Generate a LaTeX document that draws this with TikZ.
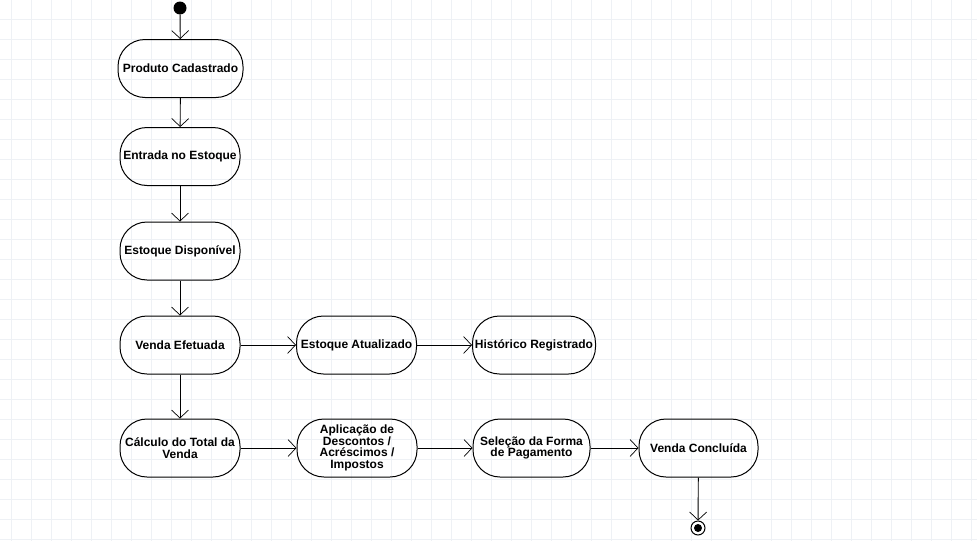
\documentclass[tikz,border=0pt]{standalone}
\usepackage{fontspec}
\setmainfont{Liberation Sans}
\usetikzlibrary{arrows.meta}
\definecolor{gridline}{RGB}{238,241,245}
\begin{document}
\begin{tikzpicture}[x=1pt,y=-1pt,
  act/.style={draw, line width=1pt, rounded corners=27pt, inner sep=0pt,
    minimum width=120pt, minimum height=58pt, align=center,
    font=\bfseries\fontsize{12}{11.5}\selectfont},
  flow/.style={line width=0.9pt,
    -{Straight Barb[length=8pt,width=17pt,line width=0.7pt]}}]
\useasboundingbox (0,0) rectangle (977,541);
\fill[white] (0,0) rectangle (977,541);
% background grid
\foreach \gx in {0,...,48} \draw[gridline, line width=1pt] (11.7+20*\gx,0) -- (11.7+20*\gx,541);
\foreach \gy in {0,...,26} \draw[gridline, line width=1pt] (0,19.3+20*\gy) -- (977,19.3+20*\gy);

% initial and final states
\node (start) [circle, fill=black, inner sep=0pt, minimum size=13pt] at (180,8) {};
\node (finish) [circle, draw, line width=1pt, inner sep=0pt, minimum size=14pt] at (698,528) {};
\fill (finish.center) circle (4pt);

% activities
\node (cad)  [act, minimum width=125pt] at (180.5,68.5) {Produto Cadastrado};
\node (ent)  [act] at (180,156.5) {Entrada no Estoque};
\node (disp) [act] at (180,251) {Estoque Disponível};
\node (vend) [act] at (180,345) {Venda Efetuada};
\node (atu)  [act] at (356.5,345) {Estoque Atualizado};
\node (hist) [act, minimum width=123pt] at (534,345) {Histórico Registrado};
\node (calc) [act] at (180,448) {Cálculo do Total da\\Venda};
\node (apl)  [act] at (357,448) {Aplicação de\\Descontos /\\Acréscimos /\\Impostos};
\node (sel)  [act, minimum width=117pt] at (531.5,448) {Seleção da Forma\\de Pagamento};
\node (conc) [act, minimum width=119pt] at (698.5,448) {Venda Concluída};

% transitions
\draw[flow] (start) -- (cad);
\draw[flow] (cad) -- (ent);
\draw[flow] (ent) -- (disp);
\draw[flow] (disp) -- (vend);
\draw[flow] (vend) -- (atu);
\draw[flow] (atu) -- (hist);
\draw[flow] (vend) -- (calc);
\draw[flow] (calc) -- (apl);
\draw[flow] (apl) -- (sel);
\draw[flow] (sel) -- (conc);
\draw[flow] (conc) -- (finish);
\end{tikzpicture}
\end{document}
